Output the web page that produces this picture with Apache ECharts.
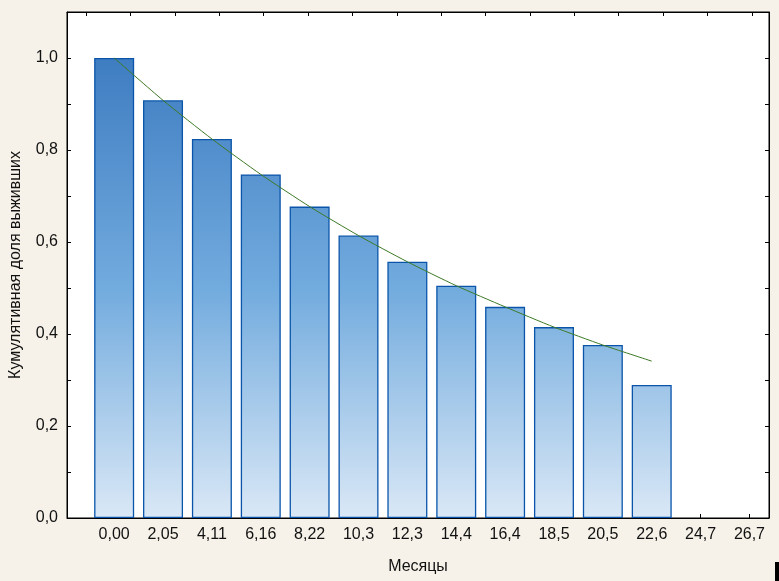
<!DOCTYPE html>
<html>
<head>
<meta charset="utf-8">
<script src="https://cdn.jsdelivr.net/npm/echarts@6/dist/echarts.min.js"></script>
<style>
html,body{margin:0;padding:0;background:#f6f2e9;}
#c{width:779px;height:581px;}
</style>
</head>
<body>
<div id="c"></div>
<script>
// Tick labels of the month axis (one per category)
var monthLabels = ['0,00','2,05','4,11','6,16','8,22','10,3','12,3','14,4','16,4','18,5','20,5','22,6','24,7','26,7'];
// Cumulative proportion surviving (bars)
var survival = [1.000, 0.908, 0.824, 0.747, 0.677, 0.614, 0.557, 0.505, 0.459, 0.415, 0.376, 0.289];
// Fitted curve values at category centres
var fitted = [1.000, 0.908, 0.824, 0.747, 0.677, 0.614, 0.557, 0.505, 0.459, 0.415, 0.376, 0.341];
var yTitle = 'Кумулятивная доля выживших';
var xTitle = 'Месяцы';

var font = 'Arial, "Liberation Sans", sans-serif';
var idx = monthLabels.map(function(_, i){ return i; });
var barData = survival.map(function(v, i){ return [i, v]; });
var lineData = fitted.map(function(v, i){ return [i, v]; });
// frame ticks at top edge (decorative)
var topTicks = [];
for (var k = 0; k < 16; k++) topTicks.push(-0.571 + 0.908 * k);

var chart = echarts.init(document.getElementById('c'), null, {renderer: 'canvas'});
var fmtY = function(v){
  var t = Math.round(v * 10);
  return (t % 2 === 0) ? (t / 10).toFixed(1).replace('.', ',') : '';
};
var lineSt = {show: true, onZero: false, lineStyle: {color: '#000', width: 1}};
chart.setOption({
  backgroundColor: '#f6f2e9',
  animation: false,
  grid: {left: 65, top: 12, right: 10, bottom: 63, show: true,
         backgroundColor: '#ffffff', borderColor: '#000000', borderWidth: 1},
  xAxis: [{
    type: 'value', min: -0.965, max: 13.40, position: 'bottom',
    splitLine: {show: false},
    axisLine: lineSt,
    axisTick: {show: true, inside: true, length: 4, customValues: idx, lineStyle: {color: '#000'}},
    axisLabel: {show: true, customValues: idx, margin: 9, color: '#111', fontSize: 16, fontFamily: font,
      formatter: function(v){ var i = Math.round(v); return monthLabels[i] || ''; }},
    name: xTitle, nameLocation: 'middle', nameGap: 41,
    nameTextStyle: {color: '#111', fontSize: 16, fontFamily: font}
  }, {
    type: 'value', min: -0.965, max: 13.40, position: 'top',
    splitLine: {show: false},
    axisLine: lineSt,
    axisTick: {show: true, inside: true, length: 4, customValues: topTicks, lineStyle: {color: '#000'}},
    axisLabel: {show: false}
  }],
  yAxis: [{
    type: 'value', min: 0, max: 1.1, interval: 0.1, position: 'left',
    splitLine: {show: false},
    axisLine: lineSt,
    axisTick: {show: true, inside: true, length: 4, lineStyle: {color: '#000'}},
    axisLabel: {margin: 9, color: '#111', fontSize: 16, fontFamily: font, formatter: fmtY,
      showMaxLabel: false},
    name: yTitle, nameLocation: 'middle', nameGap: 43, nameRotate: 90,
    nameTextStyle: {color: '#111', fontSize: 16, fontFamily: font}
  }, {
    type: 'value', min: 0, max: 1.1, interval: 0.1, position: 'right',
    splitLine: {show: false},
    axisLine: lineSt,
    axisTick: {show: true, inside: true, length: 4, lineStyle: {color: '#000'}},
    axisLabel: {show: false}
  }],
  series: [{
    type: 'bar', xAxisIndex: 0, yAxisIndex: 0, data: barData, barWidth: 40,
    itemStyle: {
      color: new echarts.graphic.LinearGradient(0, 59, 0, 518, [
        {offset: 0, color: '#3f7dc2'},
        {offset: 0.5, color: '#72abde'},
        {offset: 1, color: '#dae8f6'}
      ], true),
      borderColor: '#0a55aa', borderWidth: 1.3
    },
    z: 2
  }, {
    type: 'line', xAxisIndex: 0, yAxisIndex: 0, data: lineData, smooth: 0.2,
    symbol: 'none', lineStyle: {color: '#3d7a26', width: 1}, z: 3
  }],
  graphic: [{type: 'rect', shape: {x: 775, y: 562, width: 4, height: 19}, style: {fill: '#000'}}]
});
</script>
</body>
</html>
